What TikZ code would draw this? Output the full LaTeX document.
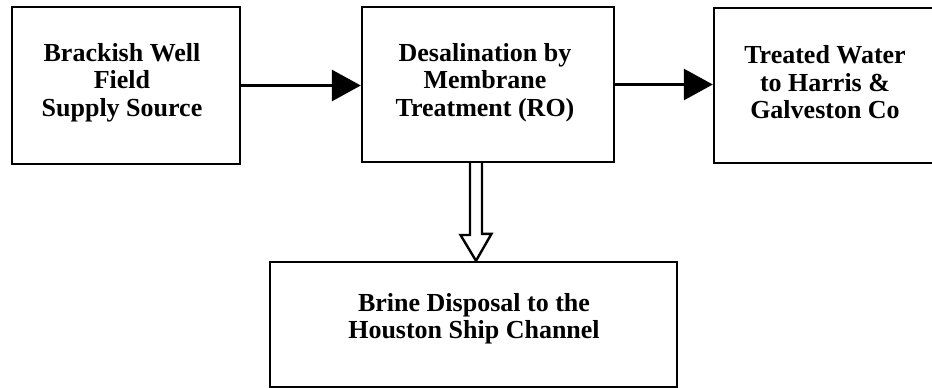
\documentclass[tikz,border=0pt]{standalone}
\usepackage{fontspec}
\setmainfont{Liberation Serif}
\usetikzlibrary{arrows.meta,calc}
\begin{document}
\begin{tikzpicture}[x=1pt,y=-1pt,
  box/.style={draw=black,line width=2.4pt,rectangle,inner sep=0pt},
  txt/.style={align=center,inner sep=0pt,font=\fontsize{26}{27.5}\selectfont\bfseries},
  arr/.style={draw=black,line width=3pt,-{Triangle[length=29pt,width=31pt]}},
  hollow/.style={draw=black,line width=2.4pt,line join=miter}]
\useasboundingbox (0,0) rectangle (932,388);
\fill[white] (0,0) rectangle (932,388);
\node[box,minimum width=228pt,minimum height=157pt] (b1) at (126,85.5) {};
\node[box,minimum width=252pt,minimum height=155pt] (b2) at (488,84.5) {};
\node[box,minimum width=230pt,minimum height=155pt] (b3) at (829,85.5) {};
\node[box,minimum width=407pt,minimum height=125pt] (b4) at (473.5,324.5) {};
\node[txt] (t1) at (122,82.5) {Brackish Well\\Field\\Supply Source};
\node[txt] (t2) at (485,82.5) {Desalination by\\Membrane\\Treatment (RO)};
\node[txt] (t3) at (825,82.5) {Treated Water\\to Harris \&\\Galveston Co};
\node[txt] (t4) at (474,318.5) {Brine Disposal to the\\Houston Ship Channel};
\draw[arr] (b1.east) -- (b1.east -| b2.west);
\draw[arr] (b2.east) -- (b2.east -| b3.west);
\coordinate (hs) at (476,162);
\coordinate (ht) at (hs |- b4.north);
\draw[hollow] ($(hs)+(-6,0)$) -- ++(0,73) -- ++(-9.5,0) -- (ht) -- ++(15.5,-27) -- ++(-9.5,0) -- ($(hs)+(6,0)$);
\end{tikzpicture}
\end{document}
